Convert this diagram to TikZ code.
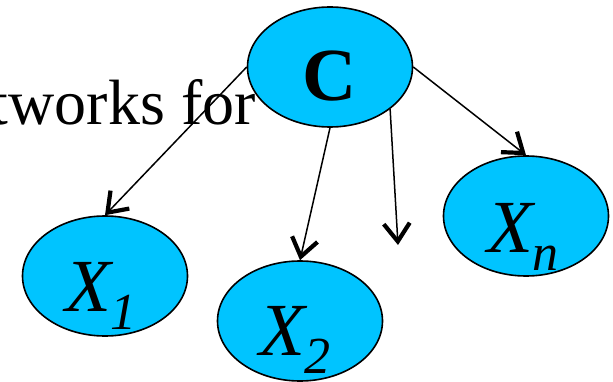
\documentclass[tikz,border=0pt]{standalone}
\usepackage{fontspec}
\setmainfont{Liberation Serif}
\usetikzlibrary{arrows.meta, shapes.geometric}
\definecolor{ccyan}{HTML}{00C4FF}
\newcommand{\varlbl}[1]{\textit{X\smash{\raisebox{-18pt}{\fontsize{52}{56}\selectfont #1}}}}
\tikzset{
  every picture/.style={x=1pt, y=-1pt},
  blob/.style={ellipse, draw=black, fill=ccyan, line width=1.6pt, minimum width=165pt, minimum height=120pt, inner sep=0pt},
  arrow/.style={-{Straight Barb[length=18pt, width=26pt, line width=4.2pt]}, line width=1.5pt},
  big/.style={font=\fontsize{75}{80}\selectfont, anchor=base, inner sep=0pt},
  side/.style={font=\fontsize{64}{70}\selectfont, anchor=base east, inner sep=0pt},
}
\begin{document}
\begin{tikzpicture}
  \useasboundingbox (0,0) rectangle (613,382);
  % caption text cut by the frame
  \node[side] (cap) at (256,125) {tworks for};
  % class and feature nodes
  \node[blob] (C) at (330,67) {};
  \node[blob] (X1) at (105,276) {};
  \node[blob] (X2) at (300,321) {};
  \node[blob] (Xn) at (526,216) {};
  \node[big] (lc) at (330,101) {\textbf{C}};
  \node[big] (l1) at (101,311) {\varlbl{1}};
  \node[big] (l2) at (295,355) {\varlbl{2}};
  \node[big] (ln) at (523,252) {\varlbl{n}};
  % arrows
  \coordinate (dots) at (398,245);
  \draw[arrow] (C.west) -- (X1.north);
  \draw[arrow] (C.south) -- (X2.north);
  \draw[arrow] (C.-35) -- (dots);
  \draw[arrow] (C.east) -- (Xn.north);
\end{tikzpicture}
\end{document}
